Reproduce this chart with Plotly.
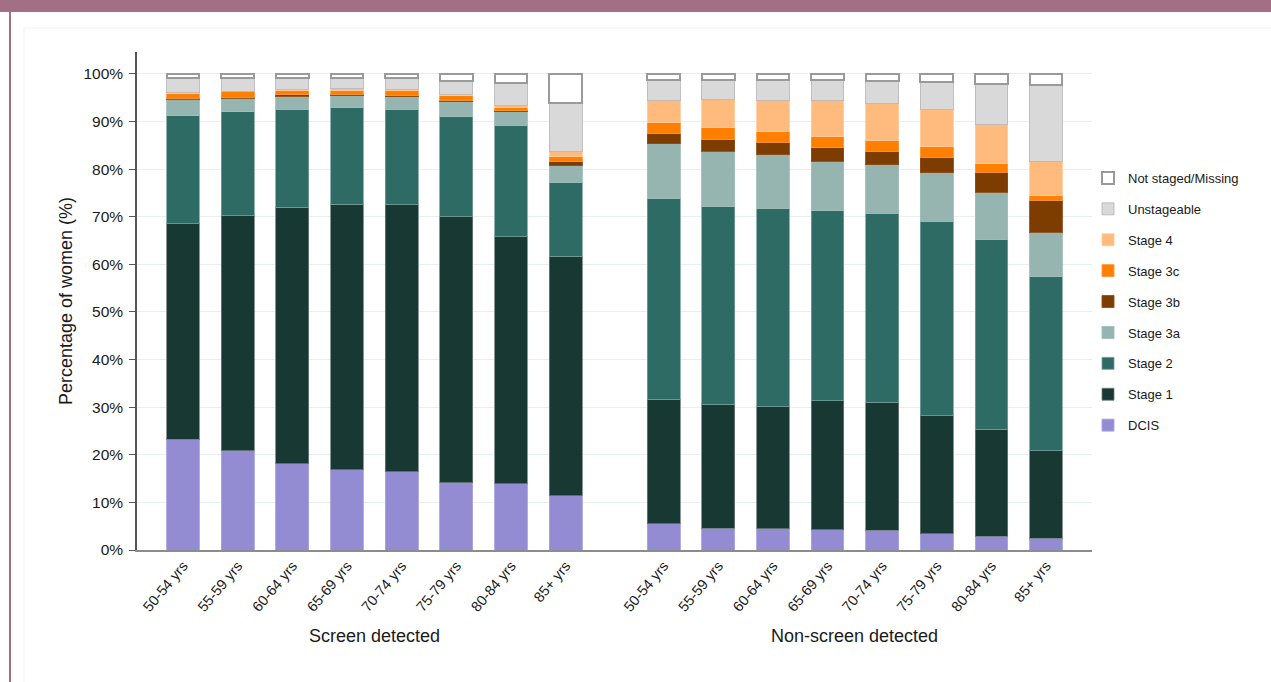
import plotly.graph_objects as go

age_groups = ["50-54 yrs", "55-59 yrs", "60-64 yrs", "65-69 yrs",
              "70-74 yrs", "75-79 yrs", "80-84 yrs", "85+ yrs"]
group_labels = ["Screen detected", "Non-screen detected"]
stage_names = ["DCIS", "Stage 1", "Stage 2", "Stage 3a", "Stage 3b",
               "Stage 3c", "Stage 4", "Unstageable", "Not staged/Missing"]

# Screen detected (% of women)
screen_dcis = [23.3, 20.9, 18.1, 16.9, 16.4, 14.1, 13.9, 11.4]
screen_s1 = [45.2, 49.3, 53.9, 55.7, 56.1, 55.9, 51.9, 50.3]
screen_s2 = [22.7, 21.8, 20.6, 20.4, 20.1, 21.0, 23.4, 15.5]
screen_s3a = [3.5, 2.9, 2.7, 2.4, 2.6, 3.2, 2.8, 3.5]
screen_s3b = [0.2, 0.2, 0.3, 0.3, 0.3, 0.3, 0.3, 1.0]
screen_s3c = [0.9, 1.1, 0.9, 0.8, 1.0, 0.9, 0.7, 0.9]
screen_s4 = [0.3, 0.2, 0.3, 0.4, 0.3, 0.3, 0.3, 1.0]
screen_unst = [3.0, 2.7, 2.3, 2.2, 2.3, 2.9, 4.7, 10.2]
screen_miss = [0.9, 0.9, 0.9, 0.9, 0.9, 1.4, 2.0, 6.2]

# Non-screen detected (% of women)
nonscreen_dcis = [5.5, 4.6, 4.5, 4.3, 4.1, 3.4, 2.9, 2.5]
nonscreen_s1 = [26.2, 26.0, 25.6, 27.1, 26.9, 24.8, 22.5, 18.3]
nonscreen_s2 = [42.2, 41.5, 41.7, 39.9, 39.7, 40.8, 39.9, 36.6]
nonscreen_s3a = [11.4, 11.7, 11.2, 10.4, 10.2, 10.2, 9.8, 9.3]
nonscreen_s3b = [2.2, 2.5, 2.6, 2.8, 2.9, 3.3, 4.2, 6.8]
nonscreen_s3c = [2.3, 2.4, 2.3, 2.3, 2.2, 2.2, 1.9, 0.9]
nonscreen_s4 = [4.7, 6.0, 6.6, 7.7, 7.8, 7.8, 8.1, 7.3]
nonscreen_unst = [4.2, 4.0, 4.2, 4.2, 4.7, 5.8, 8.6, 15.9]
nonscreen_miss = [1.3, 1.3, 1.3, 1.3, 1.5, 1.7, 2.1, 2.4]

y_tick_values = [0, 10, 20, 30, 40, 50, 60, 70, 80, 90, 100]
y_tick_labels = ["0%", "10%", "20%", "30%", "40%", "50%",
                 "60%", "70%", "80%", "90%", "100%"]

screen_series = [screen_dcis, screen_s1, screen_s2, screen_s3a, screen_s3b,
                 screen_s3c, screen_s4, screen_unst, screen_miss]
nonscreen_series = [nonscreen_dcis, nonscreen_s1, nonscreen_s2, nonscreen_s3a,
                    nonscreen_s3b, nonscreen_s3c, nonscreen_s4, nonscreen_unst,
                    nonscreen_miss]

fill_colors = ["#948cd2", "#183833", "#2e6b64", "#96b5b1", "#7d3c00",
               "#ff7f00", "#ffbb7d", "#d9d9d9", "#ffffff"]
edge_colors = ["rgba(170,165,225,0.9)", "rgba(110,125,122,0.8)", "rgba(120,160,155,0.8)",
               "rgba(160,190,186,0.9)", "rgba(140,80,30,0.9)", "rgba(255,150,60,0.9)",
               "rgba(255,205,160,0.9)", "rgba(185,185,185,0.9)", "#9a9a9a"]
edge_widths = [1, 1, 1, 1, 1, 1, 1, 1, 2]

fig = go.Figure()
n_stages = len(stage_names)
for series_set, xa, show in [(screen_series, "x", True), (nonscreen_series, "x2", False)]:
    for i, (name, vals, fc, ec, ew) in enumerate(zip(stage_names, series_set, fill_colors, edge_colors, edge_widths)):
        fig.add_trace(go.Bar(
            x=age_groups, y=vals, name=name, xaxis=xa, yaxis="y",
            marker=dict(color=fc, line=dict(color=ec, width=ew)),
            legendgroup=name, showlegend=show, legendrank=(n_stages - i) * 10,
            hovertemplate="%{x}<br>" + name + ": %{y:.1f}%<extra></extra>",
        ))

# pixel geometry helpers for plot area
W, H = 1271, 682
L, R, T, B = 137, 1092, 52, 550
pw, ph = R - L, B - T
split = (614 - L) / pw

def px(xp):
    return (xp - L) / pw

def py(yp):
    return (B - yp) / ph

font_family = "Liberation Sans, Arial, sans-serif"

fig.update_layout(
    width=W, height=H,
    margin=dict(l=L, r=W - R, t=T, b=H - B),
    paper_bgcolor="white", plot_bgcolor="white",
    barmode="stack", bargap=0.4,
    font=dict(family=font_family, size=15, color="#1a1a1a"),
    xaxis=dict(domain=[0, split], range=[-0.842, 7.884], type="category",
               tickangle=-50, tickfont=dict(size=14.5, color="#1a1a1a"),
               showline=True, linecolor="#8c8c8c", linewidth=1.5,
               showgrid=False, ticks="", zeroline=False),
    xaxis2=dict(domain=[split, 1], range=[-0.910, 7.842], type="category",
                tickangle=-50, tickfont=dict(size=14.5, color="#1a1a1a"),
                showline=True, linecolor="#8c8c8c", linewidth=1.5,
                showgrid=False, ticks="", zeroline=False, anchor="y"),
    yaxis=dict(range=[0, 104.6], tickmode="array", tickvals=y_tick_values, ticktext=y_tick_labels,
               showline=True, linecolor="#555555", linewidth=1.5,
               ticks="outside", ticklen=6, tickcolor="#555555",
               ticklabelstandoff=3,
               tickfont=dict(size=15.5, color="#1a1a1a"),
               showgrid=True, gridcolor="#e8eff1", gridwidth=1,
               zeroline=False,
               title=dict(text="Percentage of women (%)", font=dict(size=18, color="#1a1a1a"), standoff=6)),
    legend=dict(x=px(1088), y=py(302), xanchor="left", yanchor="middle",
                traceorder="grouped", tracegroupgap=11,
                font=dict(size=13, color="#1a1a1a"), bgcolor="rgba(0,0,0,0)"),
    annotations=[
        dict(text=group_labels[0], xref="x", x=3.5, yref="paper", y=py(636),
             showarrow=False, xanchor="center", yanchor="middle",
             font=dict(size=18, color="#1a1a1a")),
        dict(text=group_labels[1], xref="x2", x=3.5, yref="paper", y=py(636),
             showarrow=False, xanchor="center", yanchor="middle",
             font=dict(size=18, color="#1a1a1a")),
    ],
    shapes=[
        dict(type="rect", xref="paper", yref="paper", x0=px(24), x1=px(1290),
             y0=py(700), y1=py(28), line=dict(color="#f1f1f1", width=1), fillcolor="rgba(0,0,0,0)", layer="below"),
        dict(type="rect", xref="paper", yref="paper", x0=px(-5), x1=px(1280),
             y0=py(12), y1=py(-5), line=dict(width=0), fillcolor="#a36f84"),
        dict(type="rect", xref="paper", yref="paper", x0=px(9), x1=px(11),
             y0=py(700), y1=py(0), line=dict(width=0), fillcolor="#a36f84"),
    ],
)

fig.write_html("out.html")
